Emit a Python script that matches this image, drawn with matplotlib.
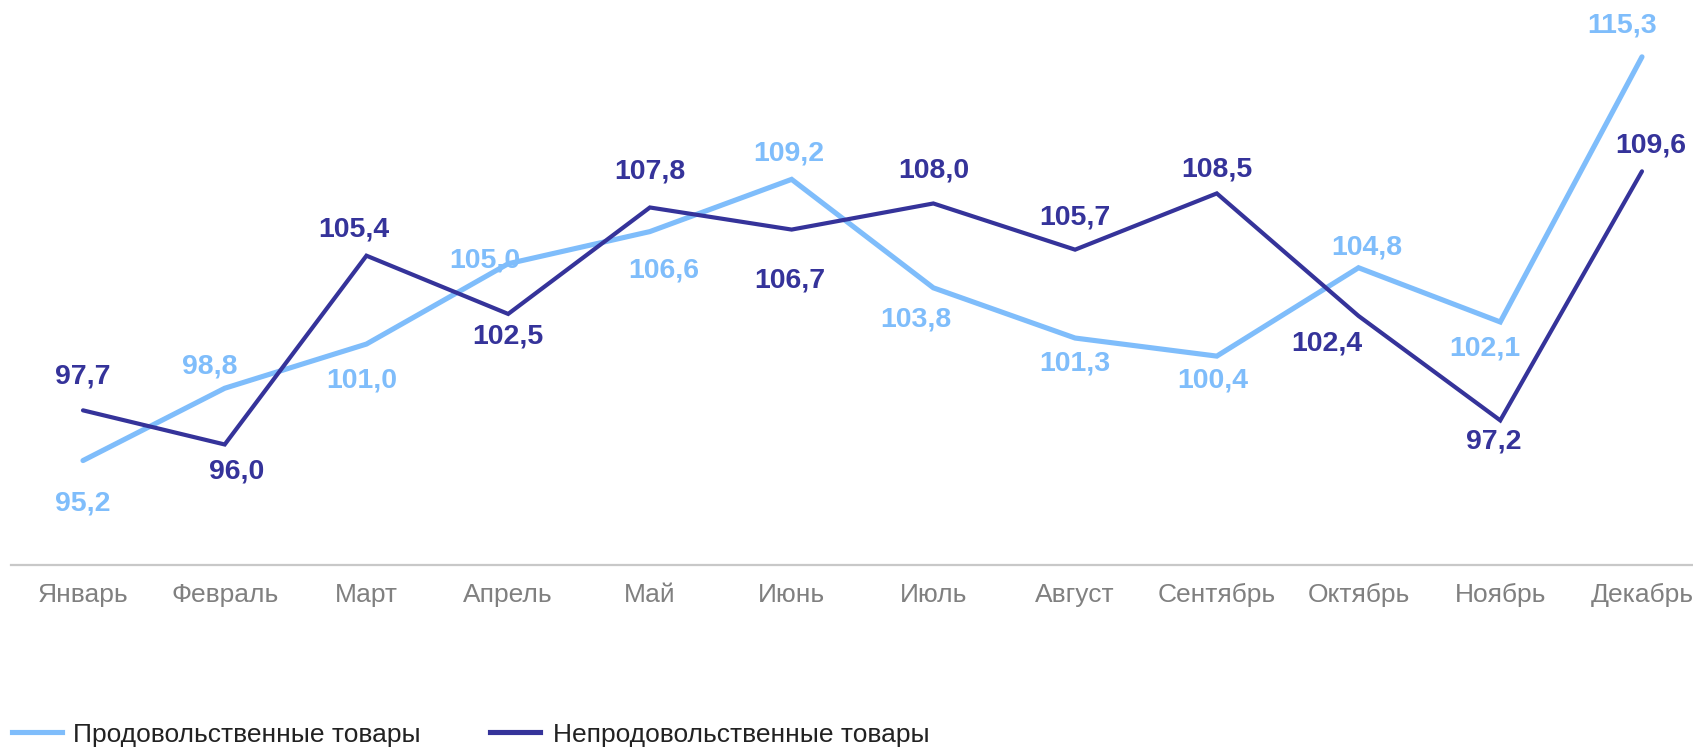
import matplotlib
matplotlib.use("Agg")
import matplotlib.pyplot as plt
from matplotlib.lines import Line2D

months = ["Январь", "Февраль", "Март", "Апрель", "Май", "Июнь", "Июль",
          "Август", "Сентябрь", "Октябрь", "Ноябрь", "Декабрь"]
food = [95.2, 98.8, 101.0, 105.0, 106.6, 109.2, 103.8, 101.3, 100.4, 104.8, 102.1, 115.3]
nonfood = [97.7, 96.0, 105.4, 102.5, 107.8, 106.7, 108.0, 105.7, 108.5, 102.4, 97.2, 109.6]
series_names = ["Продовольственные товары", "Непродовольственные товары"]

# label offsets in pixels (dx, dy)
food_off = [(0, -43), (-15, 22), (-5, -36), (-23, 3), (14, -39), (-3, 26),
            (-17, -32), (0, -25), (-4, -24), (8, 20), (-15, -27), (-20, 31)]
nonfood_off = [(0, 34), (12, -27), (-13, 26), (0, -23), (0, 36), (-2, -51),
               (0, 33), (0, 32), (0, 24), (-32, -28), (-7, -21), (9, 26)]

C_FOOD = "#7fbdfb"
C_NON = "#35339a"
W, H = 1693, 748
SANS = ["Liberation Sans", "DejaVu Sans"]

fig = plt.figure(figsize=(W / 100, H / 100), dpi=100)
ax = fig.add_axes([11 / W, 183 / H, 1 - 11 / W, 1 - 183 / H])
x = list(range(len(months)))
ax.plot(x, food, color=C_FOOD, lw=3.7, solid_capstyle="round", solid_joinstyle="miter")
ax.plot(x, nonfood, color=C_NON, lw=3.0, solid_capstyle="round", solid_joinstyle="miter")
ax.set_xlim(-0.508, 11.36)
ax.set_ylim(90, 118.13)

for i, v in enumerate(food):
    dx, dy = food_off[i]
    ax.annotate(f"{v:.1f}".replace(".", ","), (i, v), xytext=(dx, dy),
                textcoords="offset pixels", ha="center", va="center",
                color=C_FOOD, fontsize=20.5, fontweight="bold", family=SANS,
                annotation_clip=False)
for i, v in enumerate(nonfood):
    dx, dy = nonfood_off[i]
    ax.annotate(f"{v:.1f}".replace(".", ","), (i, v), xytext=(dx, dy),
                textcoords="offset pixels", ha="center", va="center",
                color=C_NON, fontsize=20.5, fontweight="bold", family=SANS,
                annotation_clip=False)

for s in ["top", "right", "left"]:
    ax.spines[s].set_visible(False)
ax.spines["bottom"].set_color("#c8c8c8")
ax.spines["bottom"].set_linewidth(1.6)
ax.set_yticks([])
ax.set_xticks(x)
ax.set_xticklabels(months, family=SANS, fontsize=19, color="#808080")
ax.tick_params(axis="x", length=0, pad=13)

# legend
ly = 1 - 732 / H
base = 1 - 742 / H
fig.add_artist(Line2D([12 / W, 62 / W], [ly, ly], transform=fig.transFigure,
                      color=C_FOOD, lw=3.7))
fig.add_artist(Line2D([490 / W, 540 / W], [ly, ly], transform=fig.transFigure,
                      color=C_NON, lw=3.7))
fig.text(73 / W, base, series_names[0], family=SANS, fontsize=19,
         color="#222222", va="baseline", ha="left")
fig.text(553 / W, base, series_names[1], family=SANS, fontsize=19,
         color="#222222", va="baseline", ha="left")

fig.savefig("out.png", dpi=100)
